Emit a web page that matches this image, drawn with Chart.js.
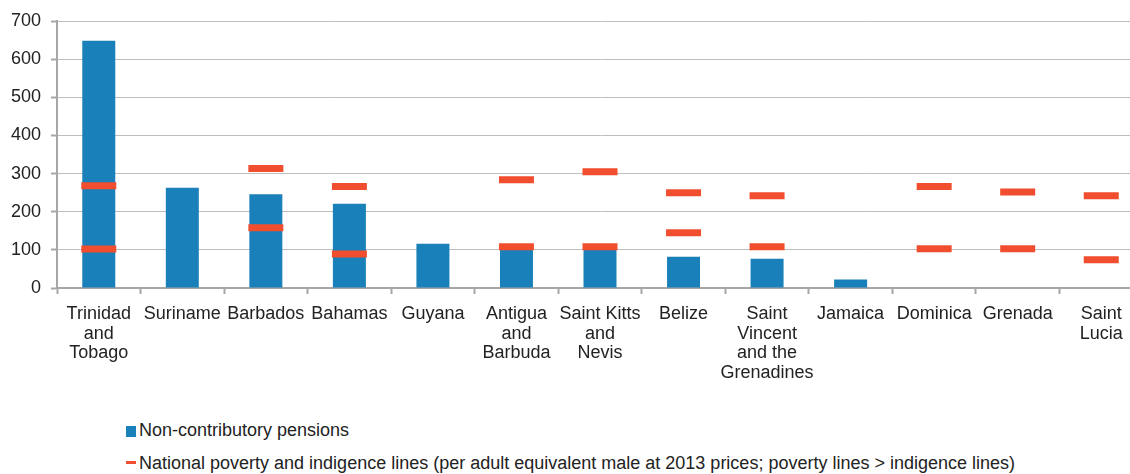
<!DOCTYPE html>
<html>
<head>
<meta charset="utf-8">
<script src="https://cdn.jsdelivr.net/npm/chart.js@4/dist/chart.umd.min.js"></script>
<style>
	html, body { margin: 0; padding: 0; background: #fff; overflow: hidden; width: 1130px; height: 474px; }
	#wrap { position: absolute; left: 0; top: 0; width: 1143px; height: 400px; }
	.legend { position: absolute; left: 126px; font: 18px "Liberation Sans", Arial, sans-serif; color: #222; white-space: nowrap; }
	.legend .box { display: inline-block; width: 10px; height: 11px; background: #1980B9; margin-right: 3px; vertical-align: -1px; }
	.legend .dash { display: inline-block; width: 10px; height: 3px; background: #F04E2E; margin-right: 3px; vertical-align: 5px; }
</style>
</head>
<body>
<div id="wrap"><canvas id="chart" width="1143" height="400"></canvas></div>
<div class="legend" style="top: 420px;"><span class="box"></span>Non-contributory pensions</div>
<div class="legend" style="top: 453px;"><span class="dash"></span>National poverty and indigence lines (per adult equivalent male at 2013 prices; poverty lines &gt; indigence lines)</div>
<script>
const countries = [
	['Trinidad', 'and', 'Tobago'],
	'Suriname',
	'Barbados',
	'Bahamas',
	'Guyana',
	['Antigua', 'and', 'Barbuda'],
	['Saint Kitts', 'and', 'Nevis'],
	'Belize',
	['Saint', 'Vincent', 'and the', 'Grenadines'],
	'Jamaica',
	'Dominica',
	'Grenada',
	['Saint', 'Lucia'],
];

const pensions = [648, 263, 246, 221, 116, 105, 105, 82, 77, 22, null, null, null];
const povertyLines = [268, null, 313, 266, null, 284, 305, 250, 242, null, 266, 252, 242];
const indigenceLines = [102, null, 158, 89, null, 108, 108, 145, 108, null, 103, 103, 74];

const yTicks = [0, 100, 200, 300, 400, 500, 600, 700];

const blue = '#1980B9';
const red = '#F04E2E';
const axisGrey = '#A6A6A6';
const font = { family: '"Liberation Sans", Arial, sans-serif', size: 18, lineHeight: 1.1 };

function markerDataset(label, data) {
	return {
		type: 'line',
		label,
		data,
		order: 1,
		showLine: false,
		pointStyle: 'line',
		pointRadius: 17.5,
		pointBorderWidth: 7,
		pointBorderColor: red,
		borderColor: red,
		pointHoverRadius: 17.5,
	};
}

new Chart(document.getElementById('chart').getContext('2d'), {
	type: 'bar',
	data: {
		labels: countries,
		datasets: [
			{
				label: 'Non-contributory pensions',
				data: pensions,
				order: 2,
				backgroundColor: blue,
				barPercentage: 0.395,
				categoryPercentage: 1,
			},
			markerDataset('Poverty line', povertyLines),
			markerDataset('Indigence line', indigenceLines),
		],
	},
	options: {
		responsive: false,
		animation: false,
		layout: {
			// the wide markers would otherwise push the plot area inwards
			autoPadding: false,
			padding: { top: 21, right: 0, bottom: 0, left: 0 },
		},
		plugins: {
			legend: { display: false },
			tooltip: { enabled: false },
		},
		scales: {
			x: {
				grid: {
					drawOnChartArea: false,
					tickLength: 6,
					tickColor: axisGrey,
					tickWidth: 2,
				},
				border: { color: axisGrey, width: 2 },
				ticks: {
					font,
					color: '#222',
					padding: 10,
					maxRotation: 0,
					autoSkip: false,
				},
				afterFit(scale) {
					scale.height = 112;
					scale.paddingLeft = 0;
					scale.paddingRight = 0;
				},
			},
			y: {
				min: 0,
				max: 700,
				afterBuildTicks(scale) {
					scale.ticks = yTicks.map(v => ({ value: v }));
				},
				grid: {
					color: '#BDBDBD',
					lineWidth: 1,
					borderDash: [2, 1],
					tickLength: 6,
					tickColor: axisGrey,
					tickWidth: 2,
					tickBorderDash: [],
				},
				border: { color: axisGrey, width: 2 },
				ticks: {
					font,
					color: '#222',
					padding: 10,
				},
				afterFit(scale) {
					scale.width = 57;
				},
			},
		},
	},
});
</script>
</body>
</html>
